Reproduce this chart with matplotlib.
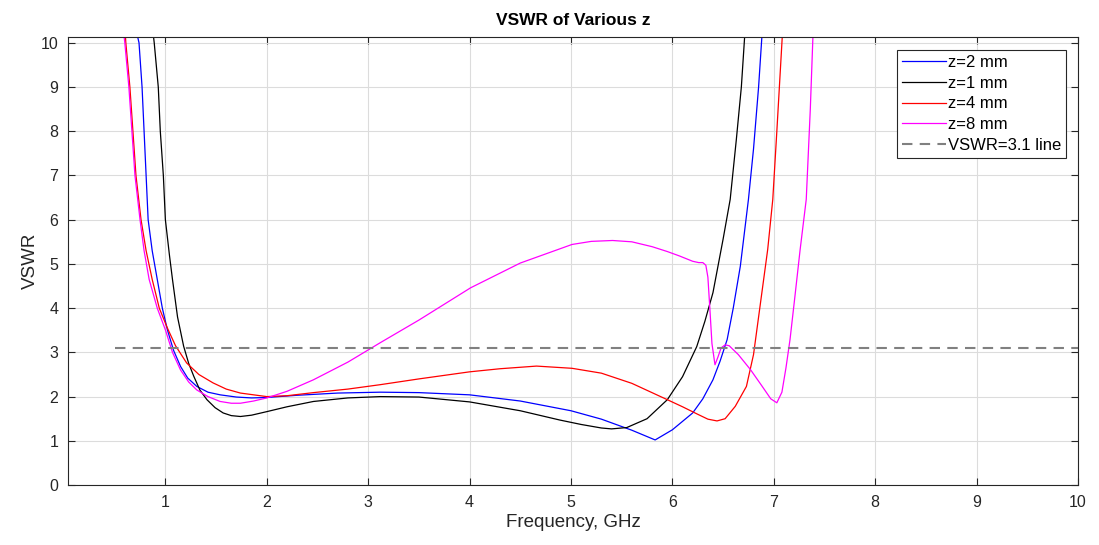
import matplotlib
matplotlib.use("Agg")
import matplotlib.pyplot as plt

plt.rcParams["font.family"] = ["Liberation Sans", "DejaVu Sans"]

# z = 2 mm
f_z2 = [0.70, 0.74, 0.77, 0.79, 0.81, 0.83, 0.87, 0.92, 0.97, 1.02, 1.08, 1.15, 1.22, 1.31,
        1.42, 1.54, 1.70, 1.85, 2.00, 2.30, 2.70, 3.12, 3.50, 4.00, 4.50, 5.00, 5.30, 5.60,
        5.83, 6.00, 6.20, 6.30, 6.40, 6.47, 6.54, 6.60, 6.67, 6.75, 6.80, 6.85, 6.89]
v_z2 = [10.4, 10.0, 9.0, 8.0, 7.0, 6.0, 5.3, 4.65, 4.0, 3.51, 3.05, 2.68, 2.42, 2.23,
        2.10, 2.04, 1.99, 1.97, 1.98, 2.03, 2.08, 2.10, 2.09, 2.04, 1.90, 1.68, 1.49, 1.24,
        1.02, 1.25, 1.63, 1.95, 2.38, 2.80, 3.29, 4.00, 4.95, 6.46, 7.60, 9.00, 10.4]

# z = 1 mm
f_z1 = [0.87, 0.89, 0.93, 0.95, 0.98, 1.00, 1.04, 1.07, 1.12, 1.18, 1.23, 1.28, 1.34, 1.41,
        1.49, 1.57, 1.65, 1.74, 1.85, 2.00, 2.20, 2.46, 2.80, 3.12, 3.50, 4.00, 4.50, 4.89,
        5.10, 5.30, 5.40, 5.55, 5.75, 5.95, 6.10, 6.24, 6.32, 6.40, 6.50, 6.57, 6.63, 6.68, 6.72]
v_z1 = [10.4, 10.0, 9.0, 8.0, 7.0, 6.0, 5.2, 4.65, 3.8, 3.14, 2.75, 2.46, 2.15, 1.93,
        1.75, 1.63, 1.57, 1.55, 1.58, 1.66, 1.77, 1.89, 1.97, 2.00, 1.99, 1.88, 1.68, 1.47,
        1.37, 1.29, 1.27, 1.30, 1.50, 1.93, 2.45, 3.13, 3.70, 4.35, 5.56, 6.46, 7.80, 9.00, 10.4]

# z = 4 mm
f_z4 = [0.60, 0.61, 0.65, 0.68, 0.71, 0.76, 0.81, 0.87, 0.94, 1.02, 1.10, 1.21, 1.33, 1.47,
        1.60, 1.74, 2.00, 2.20, 2.46, 2.80, 3.12, 3.50, 4.00, 4.30, 4.66, 5.01, 5.30, 5.60,
        5.95, 6.10, 6.25, 6.35, 6.44, 6.52, 6.62, 6.73, 6.80, 6.86, 6.94, 6.99, 7.03, 7.06, 7.09]
v_z4 = [10.4, 10.0, 9.0, 8.0, 7.0, 6.0, 5.3, 4.65, 4.0, 3.55, 3.15, 2.76, 2.50, 2.31,
        2.17, 2.08, 2.00, 2.02, 2.09, 2.17, 2.27, 2.40, 2.56, 2.63, 2.69, 2.64, 2.53, 2.30,
        1.93, 1.77, 1.60, 1.49, 1.45, 1.50, 1.78, 2.23, 2.95, 3.97, 5.33, 6.46, 8.00, 9.20, 10.4]

# z = 8 mm
f_z8 = [0.58, 0.60, 0.64, 0.67, 0.70, 0.75, 0.79, 0.84, 0.92, 1.00, 1.07, 1.15, 1.23, 1.31,
        1.42, 1.54, 1.65, 1.74, 1.87, 2.00, 2.20, 2.46, 2.80, 3.12, 3.50, 4.01, 4.50, 5.01,
        5.20, 5.41, 5.60, 5.80, 5.95, 6.07, 6.20, 6.26, 6.30, 6.33, 6.35, 6.37, 6.39, 6.42,
        6.45, 6.48, 6.52, 6.56, 6.65, 6.77, 6.88, 6.97, 7.03, 7.08, 7.12, 7.16, 7.21, 7.26,
        7.32, 7.36, 7.39]
v_z8 = [10.4, 10.0, 9.0, 8.0, 7.0, 6.0, 5.3, 4.65, 4.0, 3.51, 3.0, 2.60, 2.33, 2.15,
        2.00, 1.89, 1.85, 1.85, 1.90, 1.97, 2.12, 2.38, 2.78, 3.22, 3.73, 4.46, 5.02, 5.44,
        5.51, 5.53, 5.50, 5.39, 5.28, 5.18, 5.06, 5.03, 5.03, 4.97, 4.70, 3.97, 3.20, 2.72,
        2.90, 3.10, 3.17, 3.15, 2.95, 2.61, 2.25, 1.95, 1.86, 2.10, 2.65, 3.29, 4.30, 5.33,
        6.46, 8.50, 10.4]

vswr_limit = 3.1
limit_range = [0.5, 10]

fig = plt.figure(figsize=(10.99, 5.45), dpi=100)
ax = fig.add_axes([0.0619, 0.110, 0.9190, 0.822])

ax.plot(f_z2, v_z2, color="blue", lw=0.9, label="z=2 mm")
ax.plot(f_z1, v_z1, color="black", lw=0.9, label="z=1 mm")
ax.plot(f_z4, v_z4, color="red", lw=0.9, label="z=4 mm")
ax.plot(f_z8, v_z8, color="magenta", lw=0.9, label="z=8 mm")
ax.plot(limit_range, [vswr_limit, vswr_limit], color="#808080", lw=1.5,
        ls=(0, (5, 3.5)), label="VSWR=3.1 line")

ax.set_xlim(0.04, 10)
ax.set_ylim(0, 10.13)
ax.set_xticks(range(1, 11))
ax.set_yticks(range(0, 11))
ax.grid(True, color="#dcdcdc", lw=0.8)
ax.tick_params(direction="in", top=True, right=True, labelsize=11.5,
               colors="#262626", length=5, pad=7)
for s in ax.spines.values():
    s.set_color("#262626")
    s.set_linewidth(0.8)

ax.set_title("VSWR of Various z", fontsize=12.5, fontweight="bold", pad=9)
ax.set_xlabel("Frequency, GHz", fontsize=13.5, color="#262626", labelpad=3)
ax.set_ylabel("VSWR", fontsize=13.5, color="#262626", labelpad=1)

leg = ax.legend(loc="upper right", bbox_to_anchor=(0.988, 0.971), borderaxespad=0,
                fontsize=12, fancybox=False, framealpha=1, edgecolor="#262626",
                handlelength=2.6, handletextpad=0.12, borderpad=0.3, labelspacing=0.34)
leg.get_frame().set_linewidth(0.8)

fig.savefig("out.png", dpi=100)
